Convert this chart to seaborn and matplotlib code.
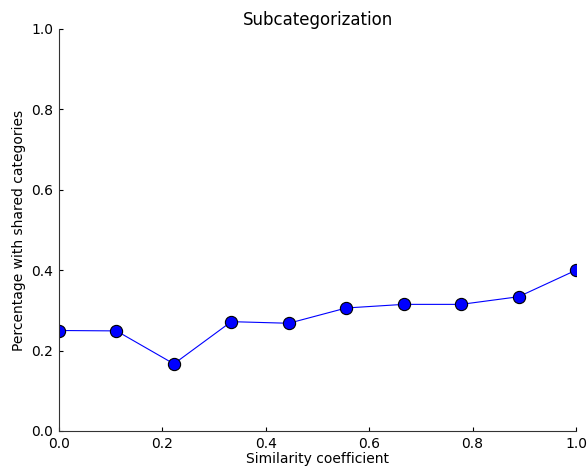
import matplotlib
matplotlib.use("Agg")
import matplotlib.pyplot as plt
import numpy as np
import pandas as pd
import seaborn as sns

# Similarity coefficient bins and share of pairs with common categories
similarity = [0.0, 1/9, 2/9, 3/9, 4/9, 5/9, 6/9, 7/9, 8/9, 1.0]
shared_pct = [0.250, 0.249, 0.167, 0.272, 0.268, 0.306, 0.315, 0.315, 0.334, 0.400]

x_ticks = [0.0, 0.2, 0.4, 0.6, 0.8, 1.0]
y_ticks = [0.0, 0.2, 0.4, 0.6, 0.8, 1.0]

sns.set_style("ticks", {
    "xtick.direction": "in",
    "ytick.direction": "in",
    "axes.edgecolor": "black",
    "text.color": "black",
    "xtick.color": "black",
    "ytick.color": "black",
    "axes.labelcolor": "black",
})
plt.rcParams["font.family"] = ["DejaVu Sans"]

df = pd.DataFrame({"similarity": similarity, "shared": shared_pct})

fig = plt.figure(figsize=(587 / 80, 471 / 80), dpi=80)
ax = fig.add_axes([59 / 587, 40 / 471, (576 - 59) / 587, (431 - 29) / 471])

sns.lineplot(
    data=df, x="similarity", y="shared", ax=ax,
    color="blue", linewidth=1.0,
    marker="o", markersize=11,
    markerfacecolor="blue", markeredgecolor="black", markeredgewidth=1.0,
)

ax.set_xlim(0, 1)
ax.set_ylim(0, 1)
ax.set_xticks(x_ticks)
ax.set_yticks(y_ticks)
ax.set_xticklabels([f"{t:.1f}" for t in x_ticks])
ax.set_yticklabels([f"{t:.1f}" for t in y_ticks])
ax.tick_params(axis="both", labelsize=12.5, length=4, width=1, pad=5)

for side in ("top", "right"):
    ax.spines[side].set_visible(False)
for side in ("left", "bottom"):
    ax.spines[side].set_linewidth(1.0)
    ax.spines[side].set_color("#333333")

ax.set_title("Subcategorization", fontsize=15, pad=4)
ax.set_xlabel("Similarity coefficient", fontsize=12.5, labelpad=1)
ax.set_ylabel("Percentage with shared categories", fontsize=12.5, labelpad=5)

fig.savefig("out.png", dpi=80)
